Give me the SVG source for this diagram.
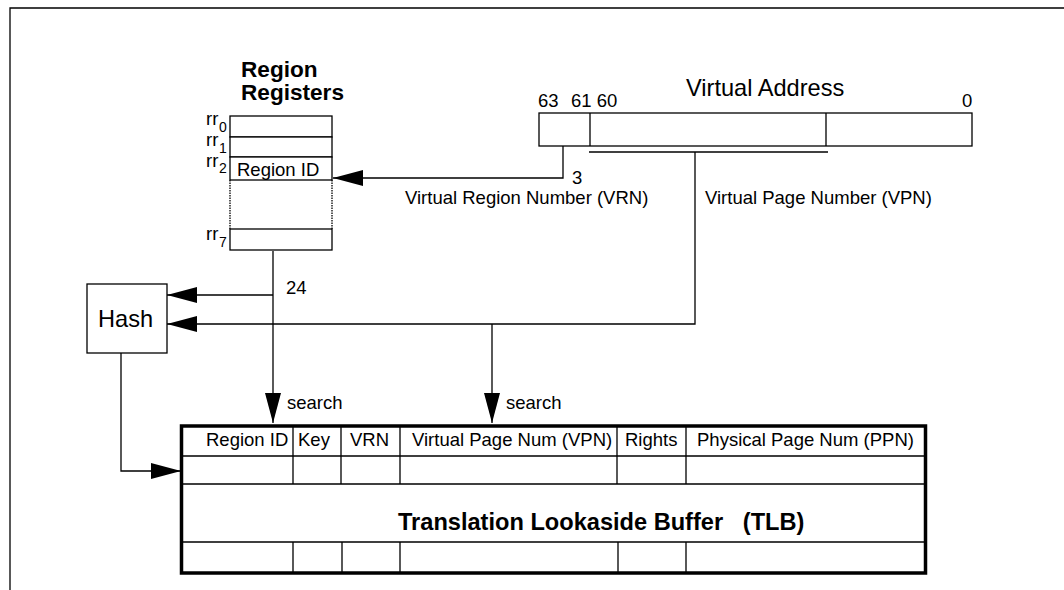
<svg xmlns="http://www.w3.org/2000/svg" width="1064" height="590" viewBox="0 0 1064 590">
<style>
text{font-family:"Liberation Sans",Arial,sans-serif;fill:#000}
.s{font-size:18.5px}
.sub{font-size:14px}
.l{font-size:23.6px}
.lb{font-size:23.6px;font-weight:bold}
.ttl{font-size:22.6px;font-weight:bold}
.ln{stroke:#000;stroke-width:1.3;fill:none}
.box{stroke:#000;stroke-width:1.3;fill:#fff}
.dot{stroke:#000;stroke-width:1.3;stroke-dasharray:1.5 1;fill:none}
</style>
<defs>
<marker id="ah" viewBox="0 0 30 16" refX="30" refY="8" markerWidth="30" markerHeight="16" markerUnits="userSpaceOnUse" orient="auto">
<path d="M0,0 L30,8 L0,16 Z" fill="#000"/>
</marker>
</defs>
<rect width="1064" height="590" fill="#fff"/>
<path class="ln" d="M10,590 V8 H1064" stroke-width="1.5"/>

<g id="region-registers">
<text class="ttl" x="241" y="77">Region</text>
<text class="ttl" x="241" y="100">Registers</text>
<rect class="box" x="230" y="116" width="102" height="21"/>
<rect class="box" x="230" y="137" width="102" height="20"/>
<rect class="box" x="230" y="157" width="102" height="23"/>
<path class="dot" d="M230,180 V229 M332,180 V229"/>
<rect class="box" x="230" y="229" width="102" height="21"/>
<text class="s" x="237" y="176">Region ID</text>
<text class="s" x="206" y="125">rr</text>
<text class="sub" x="219" y="132">0</text>
<text class="s" x="206" y="146">rr</text>
<text class="sub" x="219" y="153">1</text>
<text class="s" x="206" y="167">rr</text>
<text class="sub" x="219" y="173">2</text>
<text class="s" x="206" y="240">rr</text>
<text class="sub" x="219" y="247">7</text>
</g>

<g id="virtual-address">
<text class="l" x="686" y="96">Virtual Address</text>
<text class="s" x="538" y="107">63</text>
<text class="s" x="571" y="107">61 60</text>
<text class="s" x="962" y="107">0</text>
<rect class="box" x="539" y="113" width="433" height="33"/>
<path class="ln" d="M590,113 V146 M826,113 V146"/>
<path class="ln" d="M589,152 H828"/>
</g>

<g id="hash">
<rect class="box" x="87" y="284" width="80" height="69"/>
<text class="l" x="98" y="327">Hash</text>
</g>

<g id="tlb">
<rect x="181.5" y="426" width="744" height="147" fill="#fff" stroke="#000" stroke-width="3.5"/>
<path class="ln" d="M181,456 H926 M181,484 H926 M181,542 H926"/>
<path class="ln" d="M293,426 V484 M341,426 V484 M400,426 V484 M617,426 V484 M686,426 V484"/>
<path class="ln" d="M293,542 V573 M342,542 V573 M400,542 V573 M618,542 V573 M686,542 V573"/>
<text class="s" x="206" y="446">Region ID</text>
<text class="s" x="298" y="446">Key</text>
<text class="s" x="350" y="446">VRN</text>
<text class="s" x="412" y="446">Virtual Page Num (VPN)</text>
<text class="s" x="625" y="446">Rights</text>
<text class="s" x="697" y="446">Physical Page Num (PPN)</text>
<text class="lb" x="398" y="530" xml:space="preserve">Translation Lookaside Buffer   (TLB)</text>
</g>

<g id="connectors">
<path class="ln" d="M563,146 V178 H333" marker-end="url(#ah)"/>
<path class="ln" d="M695,152 V324 H167" marker-end="url(#ah)"/>
<path class="ln" d="M273,251 V423" marker-end="url(#ah)"/>
<path class="ln" d="M273,295 H167" marker-end="url(#ah)"/>
<path class="ln" d="M492,324 V423" marker-end="url(#ah)"/>
<path class="ln" d="M121,353 V471 H181" marker-end="url(#ah)"/>
<text class="s" x="572" y="184">3</text>
<text class="s" x="405" y="204">Virtual Region Number (VRN)</text>
<text class="s" x="705" y="204">Virtual Page Number (VPN)</text>
<text class="s" x="286" y="294">24</text>
<text class="s" x="287" y="409">search</text>
<text class="s" x="506" y="409">search</text>
</g>
</svg>
